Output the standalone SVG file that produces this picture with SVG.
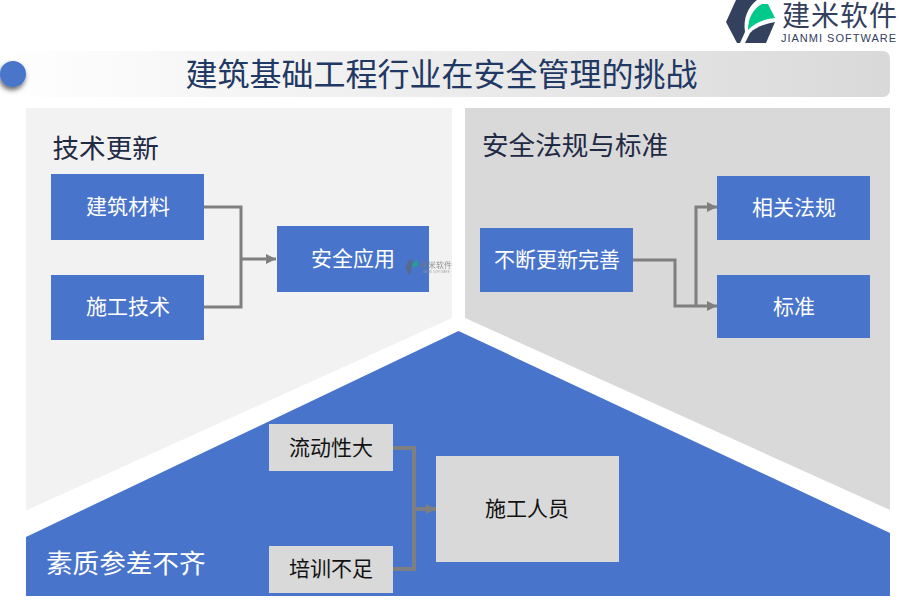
<svg xmlns="http://www.w3.org/2000/svg" width="900" height="600" viewBox="0 0 900 600">
<style>
text{font-family:"Noto Sans CJK SC","Liberation Sans",sans-serif;text-anchor:middle}
.blue{fill:#4874cb}.grey{fill:#d9d9d9}
.wt{fill:#fff;font-size:21px}.bt{fill:#111;font-size:21px}
.head{fill:#1f2a44;font-size:26.6px;text-anchor:start}
.conn{fill:none;stroke:#7f7f7f;stroke-width:3}
.arr{fill:#7f7f7f}
</style>
<defs>
<linearGradient id="bar" x1="0" y1="0" x2="1" y2="0"><stop offset="0" stop-color="#fff"/><stop offset="1" stop-color="#d9d9d9"/></linearGradient>
<filter id="sh" x="-50%" y="-50%" width="200%" height="200%"><feDropShadow dx="-1" dy="3" stdDeviation="2.5" flood-color="#000" flood-opacity=".6"/></filter>
<marker id="ah" markerUnits="userSpaceOnUse" markerWidth="11" markerHeight="11" refX="10" refY="5.500" orient="auto"><path class="arr" d="M0,0.500L10,5.500L0,10.500Z"/></marker>
</defs>
<g id="logo">
<path fill="#33405e" d="M736,0L757,0C748,7 743,18 745,32L740,43L737,43L726,22Z"/>
<path fill="#33405e" d="M745,43L750,33C756,27 765,24 775,22L766,43Z"/>
<path fill="#00c98a" d="M748,30C748,18 753,9 762,4L768,4L775,18C764,19 754,23 748,30Z"/>
<text x="840" y="26" style="font-size:28px;letter-spacing:1px;fill:#33405e">建米软件</text>
<text x="839" y="42" style="font-family:'Liberation Sans',sans-serif;font-size:11px;letter-spacing:1px;fill:#33405e">JIANMI SOFTWARE</text>
</g>
<g id="title">
<rect x="0" y="51" width="890" height="46" rx="7" fill="url(#bar)"/>
<circle cx="13" cy="74" r="13" class="blue" filter="url(#sh)"/>
<text x="441.500" y="86" style="font-size:32px;fill:#1f3864">建筑基础工程行业在安全管理的挑战</text>
</g>
<g id="panel-left">
<path d="M26,108H452V318L26,510.500Z" fill="#f2f2f2"/>
<text x="52.500" y="158" class="head">技术更新</text>
</g>
<g id="panel-right">
<path d="M465,108H890V510L465,318Z" class="grey"/>
<text x="482" y="155" class="head">安全法规与标准</text>
</g>
<g id="panel-bottom">
<path d="M458.500,331L890,533V596H26V537Z" class="blue"/>
<text x="46" y="573" class="head" style="fill:#fff">素质参差不齐</text>
</g>
<g id="connectors">
<path class="conn" d="M204,207H241V307H204"/>
<path class="conn" d="M241,259H276" marker-end="url(#ah)"/>
<path class="conn" d="M633,260H675V306H717" marker-end="url(#ah)"/>
<path class="conn" d="M696,306V207H717" marker-end="url(#ah)"/>
<path class="conn" d="M393,448H414V569H393" style="stroke-width:4"/>
<path class="conn" d="M414,509H436" style="stroke-width:4" marker-end="url(#ah)"/>
</g>
<g id="n-jzcl"><rect x="51" y="174" width="153" height="66" class="blue"/><text x="128" y="214" class="wt">建筑材料</text></g>
<g id="n-sgjs"><rect x="51" y="275" width="153" height="65" class="blue"/><text x="128" y="314" class="wt">施工技术</text></g>
<g id="n-aqyy"><rect x="277" y="226" width="152" height="66" class="blue"/><text x="353" y="266" class="wt">安全应用</text></g>
<g id="watermark" opacity=".8">
<path fill="#5a6a85" d="M409,260H413L411,270L411,274L408,274L405,267Z"/>
<path fill="#1fa88a" d="M412,268C412,264 414,261 417,260L419,265Z"/>
<text x="436" y="268" style="font-size:8px;fill:#777">建米软件</text>
<text x="436" y="273" style="font-family:'Liberation Sans',sans-serif;font-size:3px;fill:#999">JIANMI SOFTWARE</text>
</g>
<g id="n-bdgx"><rect x="480" y="228" width="153" height="64" class="blue"/><text x="557" y="267" class="wt">不断更新完善</text></g>
<g id="n-xgfg"><rect x="717" y="176" width="153" height="64" class="blue"/><text x="794" y="215" class="wt">相关法规</text></g>
<g id="n-bz"><rect x="717" y="275" width="153" height="63" class="blue"/><text x="794" y="314" class="wt">标准</text></g>
<g id="n-ldxd"><rect x="269" y="424" width="124" height="47" class="grey"/><text x="331" y="455" class="bt">流动性大</text></g>
<g id="n-pxbz"><rect x="269" y="546" width="124" height="47" class="grey"/><text x="331" y="576" class="bt">培训不足</text></g>
<g id="n-sgry"><rect x="436" y="456" width="183" height="106" class="grey"/><text x="527" y="516" class="bt">施工人员</text></g>
</svg>
